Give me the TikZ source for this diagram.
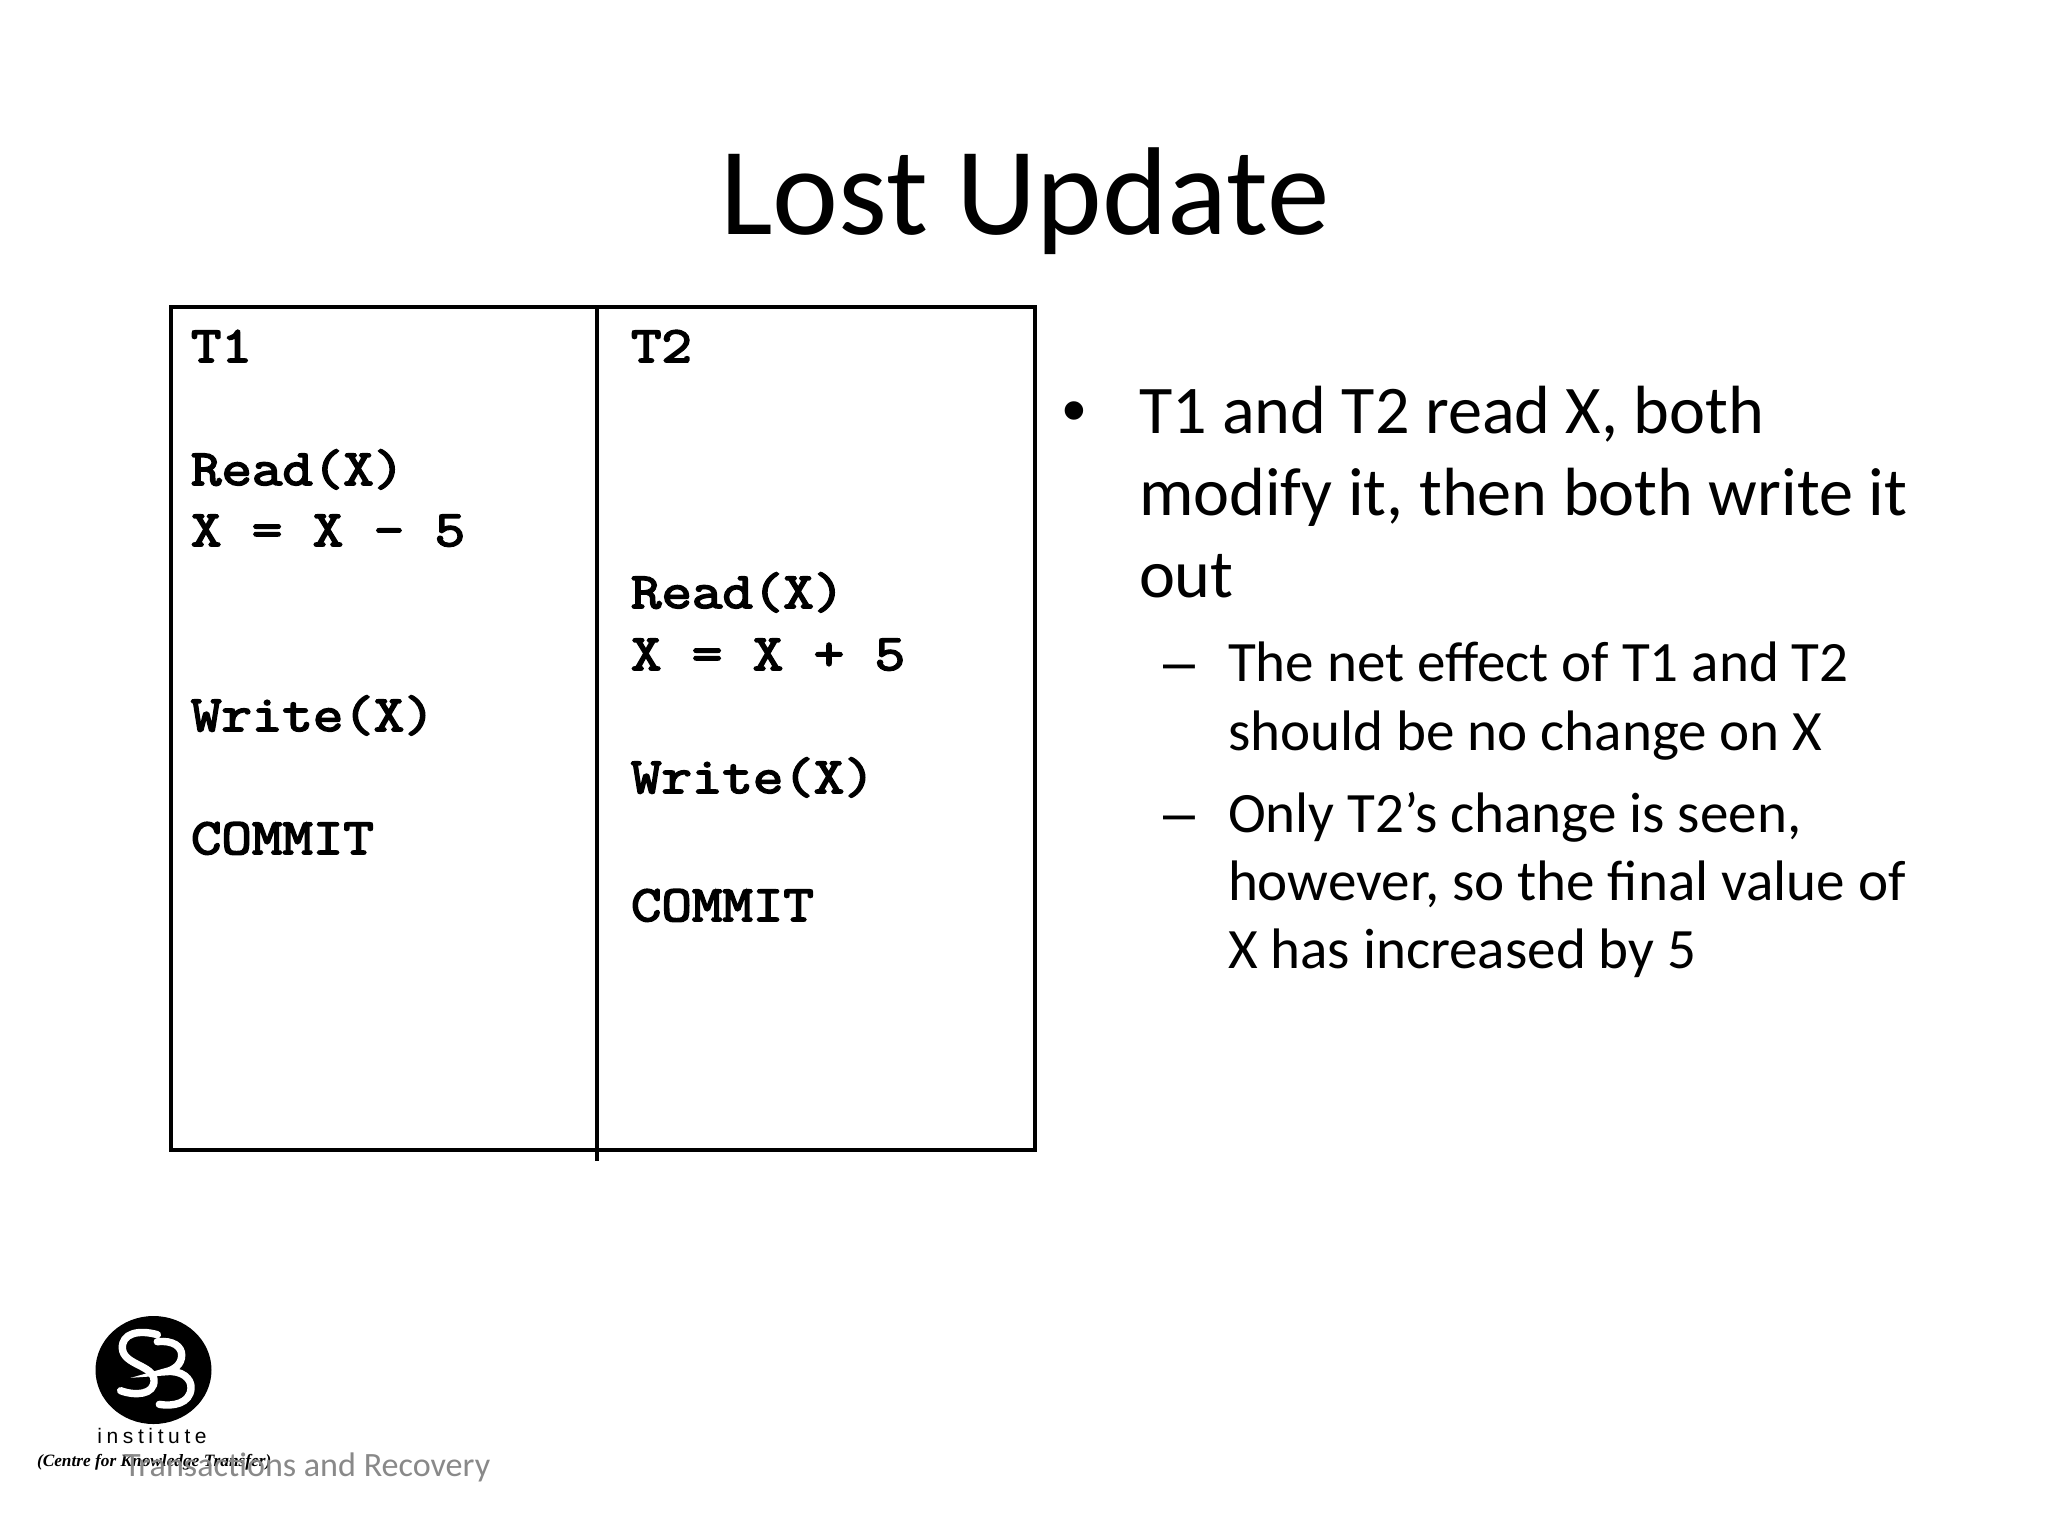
\documentclass[tikz,border=0pt]{standalone}
\usepackage{fontspec}
\setmainfont{Carlito}
\newfontfamily\monob[FakeBold=3.4,FakeStretch=1.16]{Latin Modern Mono}
\newfontfamily\logoserif{Liberation Serif}
\newfontfamily\logosans[LetterSpace=22]{Liberation Sans}
\newfontfamily\marksans{Liberation Sans}
\definecolor{footgray}{HTML}{898989}
\tikzset{
  txt/.style={anchor=base west,inner sep=0pt,outer sep=0pt},
  titletxt/.style={anchor=base,inner sep=0pt,font=\fontsize{62.5}{62.5}\selectfont},
  lvlone/.style={txt,font=\fontsize{34.1}{34.1}\selectfont},
  lvltwo/.style={txt,font=\fontsize{28.55}{28.55}\selectfont},
  markone/.style={txt,font=\marksans\fontsize{34}{34}\selectfont},
  marktwo/.style={txt,font=\marksans\fontsize{28.7}{28.7}\selectfont},
  code/.style={txt,font=\monob\fontsize{25.5}{25.5}\selectfont},
  tableline/.style={draw=black,line width=2pt},
  foot/.style={txt,text=footgray,font=\fontsize{17.05}{17.05}\selectfont},
  logostroke/.style={draw=white,line width=3.7pt,line cap=round}
}
\begin{document}
\begin{tikzpicture}[x=0.5pt,y=-0.5pt]
\useasboundingbox (0,0) rectangle (2048,1536);
\fill[white] (0,0) rectangle (2048,1536);
\node[titletxt] (title) at (1025,234) {Lost Update};
% table
\draw[tableline] (171,307) rectangle (1035,1150);
\coordinate (divtop) at (597,307);
\coordinate (divbot) at (597,1161);
\draw[tableline] (divtop) -- (divbot);
% T1
\node[code] (a1) at (191,362) {T1};
\node[code] (a2) at (191,485) {Read(X)};
\node[code] (a3) at (191,546) {X = X - 5};
\node[code] (a4) at (191,731) {Write(X)};
\node[code] (a5) at (191,854) {COMMIT};
% T2
\node[code] (b1) at (631,362) {T2};
\node[code] (b2) at (631,608) {Read(X)};
\node[code] (b3) at (631,670) {X = X + 5};
\node[code] (b4) at (631,793) {Write(X)};
\node[code] (b5) at (631,921) {COMMIT};
% bullets
\node[markone] (m0) at (1062,433) {•};
\node[lvlone] (m1) at (1139,433) {T1 and T2 read X, both};
\node[lvlone] (m2) at (1139,515) {modify it, then both write it};
\node[lvlone] (m3) at (1139,597) {out};
\node[marktwo] (d1) at (1163,681) {–};
\node[lvltwo] (s1) at (1228,681) {The net effect of T1 and T2};
\node[lvltwo] (s2) at (1228,750) {should be no change on X};
\node[marktwo] (d2) at (1163,832) {–};
\node[lvltwo] (s3) at (1228,832) {Only T2’s change is seen,};
\node[lvltwo] (s4) at (1228,900) {however, so the final value of};
\node[lvltwo] (s5) at (1228,968) {X has increased by 5};
% logo
\fill[black] (153.5,1370) ellipse[x radius=58,y radius=54];
\begin{scope}[shift={(60,1290)},x=0.1667pt,y=-0.1667pt]
\draw[logostroke] (292,134) .. controls (235,118) and (185,130) .. (187,175) .. controls (190,225) and (280,225) .. (282,270) .. controls (284,315) and (225,318) .. (182,302);
\draw[logostroke] (292,155) .. controls (340,150) and (365,170) .. (365,195) .. controls (365,225) and (340,240) .. (318,245) .. controls (365,240) and (395,265) .. (393,295) .. controls (390,340) and (340,350) .. (298,343);
\end{scope}
\node[anchor=base,inner sep=0pt,font=\logosans\fontsize{10.5}{10.5}\selectfont] (inst) at (152,1443) {institute};
\node[txt,font=\logoserif\bfseries\itshape\fontsize{8.65}{8.65}\selectfont] (centre) at (37,1466) {(Centre for Knowledge Transfer)};
\node[foot] (footer) at (124,1476) {Transactions and Recovery};
\end{tikzpicture}
\end{document}
